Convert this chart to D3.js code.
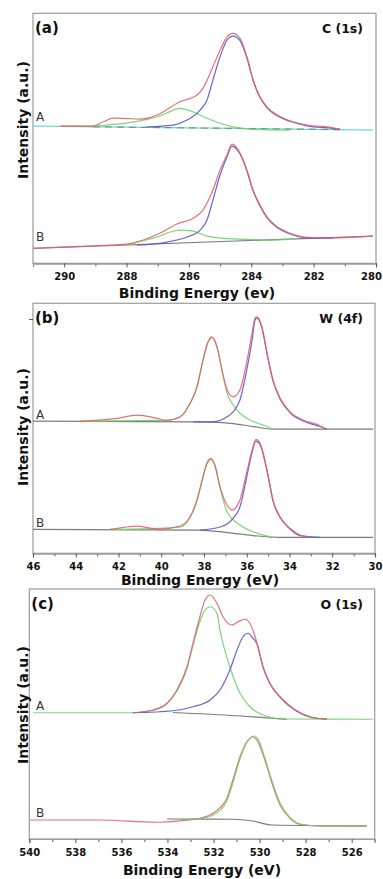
<!DOCTYPE html>
<html><head><meta charset="utf-8">
<script src="https://cdn.jsdelivr.net/npm/d3@7"></script>
<style>
html,body{margin:0;padding:0;background:#fff;}
svg{display:block;font-family:"DejaVu Sans",sans-serif;}
</style></head>
<body>
<svg id="chart" width="383" height="879"></svg>
<script>
// ---------- DATA (binding energy eV, intensity a.u.) ----------
// Panel (a) C 1s
const cTicks = [290, 288, 286, 284, 282, 280];
const cA_bg = [[291, 549], [280.1, 533]];
const cA_bg2 = [[289.08, 546], [281.15, 535]];
const cA_env = [[290.13, 549], [289.08, 549], [288.76, 565], [288.43, 581], [287.99, 579], [287.57, 577], [287.25, 583], [287.02, 593], [286.29, 646], [285.74, 673], [285.55, 700], [285.23, 786], [285.00, 853], [284.78, 906], [284.59, 920], [284.36, 900], [284.14, 826], [283.94, 733], [283.72, 666], [283.50, 626], [283.17, 593], [282.76, 570], [282.21, 553], [281.38, 542], [281.15, 536]];
const cA_c1 = [[287.34, 546], [286.51, 553], [286.06, 573], [285.64, 613], [285.42, 653], [285.23, 733], [285.00, 826], [284.78, 893], [284.59, 909], [284.36, 891], [284.14, 821], [283.94, 731], [283.72, 663], [283.50, 623], [283.17, 590], [282.76, 568], [282.21, 550], [281.38, 540], [281.15, 536]];
const cA_c2 = [[290.07, 549], [289.08, 549], [288.31, 557], [287.57, 570], [287.02, 586], [286.70, 602], [286.29, 620], [285.87, 606], [285.42, 580], [285.00, 560], [284.59, 546], [283.94, 536], [283.08, 533], [282.76, 533]];
const cB_bg = [[291, 60], [280.1, 109]];
const cB_env = [[291, 60], [289.49, 68], [287.99, 77], [287.47, 93], [286.93, 120], [286.38, 157], [285.87, 180], [285.55, 213], [285.23, 293], [285.00, 373], [284.78, 433], [284.62, 477], [284.36, 441], [284.14, 373], [283.94, 293], [283.72, 233], [283.50, 186], [283.17, 146], [282.76, 120], [282.21, 104], [281.38, 102], [280.10, 109]];
const cB_c1 = [[287.66, 73], [286.70, 85], [286.06, 105], [285.64, 133], [285.42, 173], [285.23, 253], [285.00, 353], [284.78, 425], [284.62, 469], [284.36, 437], [284.14, 369], [283.94, 289], [283.72, 229], [283.50, 183], [283.17, 143], [282.76, 117], [282.21, 102], [281.38, 101]];
const cB_c2 = [[287.89, 77], [286.93, 109], [286.61, 125], [286.29, 133], [285.87, 129], [285.42, 109], [285.00, 101], [284.36, 97], [283.50, 93], [282.66, 97]];

// Panel (b) W 4f
const wTicks = [46, 44, 42, 40, 38, 36, 34, 32, 30];
const wA_bg = [[46, 529], [38.51, 526], [37.58, 525], [36.64, 519], [35.71, 507], [34.77, 497], [30.09, 497]];
const wA_env = [[43.80, 529], [42.07, 540], [41.13, 553], [40.20, 540], [39.73, 531], [39.12, 546], [38.65, 601], [38.33, 666], [38.05, 773], [37.81, 846], [37.63, 866], [37.39, 826], [37.16, 733], [36.88, 646], [36.64, 626], [36.32, 653], [36.01, 761], [35.75, 881], [35.61, 941], [35.52, 946], [35.29, 906], [35.05, 801], [34.77, 693], [34.44, 621], [33.98, 566], [33.37, 533], [32.57, 510], [32.34, 497]];
const wA_c1 = [[43.80, 527], [41.13, 531], [39.73, 533], [39.12, 545], [38.65, 599], [38.33, 663], [38.05, 769], [37.81, 843], [37.63, 863], [37.39, 823], [37.16, 733], [36.92, 641], [36.64, 593], [36.32, 560], [35.85, 533], [35.24, 513], [34.77, 497]];
const wA_c2 = [[38.51, 526], [37.58, 526], [36.92, 546], [36.64, 566], [36.32, 613], [36.01, 729], [35.75, 853], [35.61, 933], [35.52, 941], [35.29, 901], [35.05, 797], [34.77, 689], [34.44, 617], [33.98, 563], [33.37, 529], [32.57, 507], [32.25, 497]];
const wB_bg = [[46, 96], [38.19, 93], [36.92, 83], [35.71, 71], [34.58, 64], [30.09, 64]];
const wB_env = [[42.40, 96], [41.79, 103], [41.13, 109], [40.53, 101], [40.06, 97], [39.12, 109], [38.65, 146], [38.33, 213], [38.09, 293], [37.86, 361], [37.67, 380], [37.49, 353], [37.25, 266], [36.92, 193], [36.69, 173], [36.32, 213], [36.01, 321], [35.75, 413], [35.57, 456], [35.38, 441], [35.05, 333], [34.77, 213], [34.44, 146], [33.98, 100], [33.51, 73], [33.04, 64]];
const wB_c1 = [[42.40, 95], [39.12, 105], [38.65, 143], [38.33, 209], [38.09, 289], [37.86, 357], [37.67, 376], [37.49, 349], [37.25, 261], [36.92, 166], [36.32, 113], [35.71, 86], [35.05, 69], [34.58, 64]];
const wB_c2 = [[38.19, 93], [37.25, 105], [36.64, 140], [36.32, 185], [36.01, 301], [35.75, 405], [35.57, 449], [35.38, 435], [35.05, 329], [34.77, 209], [34.44, 143], [33.98, 97], [33.51, 71], [32.57, 64]];

// Panel (c) O 1s
const oTicks = [540, 538, 536, 534, 532, 530, 528, 526];
const oA_bg = [[533.76, 506], [531.0, 493], [528.81, 479]];
const oA_env = [[535.50, 505], [534.63, 516], [534.02, 543], [533.59, 596], [533.15, 689], [532.89, 784], [532.59, 889], [532.37, 956], [532.15, 976], [531.85, 943], [531.59, 889], [531.20, 856], [530.94, 869], [530.63, 879], [530.42, 863], [530.11, 783], [529.85, 689], [529.55, 623], [529.11, 569], [528.55, 523], [527.81, 489], [527.07, 479]];
const oA_c1 = [[539.84, 505], [535.50, 505], [534.63, 515], [534.02, 541], [533.59, 592], [533.15, 683], [532.89, 775], [532.59, 870], [532.37, 915], [532.15, 929], [531.85, 903], [531.72, 836], [531.29, 689], [530.85, 583], [530.42, 529], [529.85, 496], [528.98, 480], [525.08, 479]];
const oA_c2 = [[535.50, 505], [533.76, 513], [532.89, 529], [532.15, 556], [531.72, 596], [531.29, 676], [530.98, 756], [530.72, 809], [530.50, 823], [530.29, 803], [530.11, 780], [529.85, 687], [529.55, 621], [529.11, 567], [528.55, 521], [527.81, 488], [527.07, 479]];
const oB_bg = [[534.02, 80], [531.16, 79], [530.29, 72], [529.46, 56], [525.34, 52]];
const oB_env = [[539.97, 76], [536.93, 76], [534.46, 67], [533.46, 73], [532.59, 83], [532.02, 103], [531.42, 163], [531.16, 236], [530.85, 329], [530.55, 389], [530.29, 409], [530.07, 389], [529.77, 316], [529.46, 223], [529.11, 136], [528.68, 83], [528.25, 59], [527.38, 52], [525.34, 52]];
const oB_c1 = [[533.46, 78], [532.59, 82], [532.02, 96], [531.42, 152], [531.16, 224], [530.85, 320], [530.55, 386], [530.24, 412], [530.02, 392], [529.77, 324], [529.46, 232], [529.11, 144], [528.68, 86], [528.25, 60], [527.38, 52], [525.34, 52]];

const panelLabels = ["(a)", "(b)", "(c)"];
const elementLabels = ["C (1s)", "W (4f)", "O (1s)"];
const xTitles = ["Binding Energy (ev)", "Binding Energy (eV)", "Binding Energy (eV)"];
const yTitle = "Intensity (a.u.)";

// ---------- STYLE ----------
const COL = {red: "#e2606c", blue: "#5a56c8", green: "#6ad46a", gray: "#6e6e6e", cyan: "#55dcd2", frame: "#9c9c9c"};

const panels = [
  {xDom: [291, 280], x0: 33, x1: 376, top: 13.3, bottom: 263.3, ticks: cTicks, minorStep: 1,
   titleX: 197, titleY: 298, yTitleC: 120, yTicks: [],
   series: [
     {d: cA_bg, c: COL.cyan}, {d: cA_bg2, c: COL.gray, dash: "7,5", op: 0.7}, {d: cA_c2, c: COL.green}, {d: cA_c1, c: COL.blue}, {d: cA_env, c: COL.red},
     {d: cB_bg, c: COL.gray}, {d: cB_c2, c: COL.green}, {d: cB_c1, c: COL.blue}, {d: cB_env, c: COL.red}],
   labA: 120.7, labB: 240.7},
  {xDom: [46, 30], x0: 33, x1: 375, top: 303.3, bottom: 553.3, ticks: wTicks, minorStep: 1,
   titleX: 200, titleY: 585, yTitleC: 427, yTicks: [937],
   series: [
     {d: wA_bg, c: COL.gray}, {d: wA_c1, c: COL.green}, {d: wA_c2, c: COL.blue}, {d: wA_env, c: COL.red},
     {d: wB_bg, c: COL.gray}, {d: wB_c1, c: COL.green}, {d: wB_c2, c: COL.blue}, {d: wB_env, c: COL.red}],
   labA: 419.3, labB: 526.7},
  {xDom: [540, 525], x0: 29.3, x1: 374.7, top: 589, bottom: 839, ticks: oTicks, minorStep: 1,
   titleX: 202, titleY: 875, yTitleC: 705, yTicks: [],
   series: [
     {d: oA_bg, c: COL.gray}, {d: oA_c1, c: COL.green}, {d: oA_c2, c: COL.blue}, {d: oA_env, c: COL.red},
     {d: oB_bg, c: COL.gray}, {d: oB_env, c: COL.red}, {d: oB_c1, c: COL.green}],
   labA: 710, labB: 817.3}
];

const svg = d3.select("#chart");

panels.forEach((p, i) => {
  const x = d3.scaleLinear().domain(p.xDom).range([p.x0, p.x1]);
  const y = d3.scaleLinear().domain([0, 1000]).range([p.bottom, p.top]);
  const g = svg.append("g");

  g.append("rect").attr("x", p.x0).attr("y", p.top).attr("width", p.x1 - p.x0).attr("height", p.bottom - p.top)
    .attr("fill", "none").attr("stroke", COL.frame).attr("stroke-width", 1.2);

  const line = d3.line().x(d => x(d[0])).y(d => y(d[1])).curve(d3.curveMonotoneX);
  p.series.forEach(s => {
    const pts = s.d.slice().sort((a, b) => b[0] - a[0]);
    g.append("path").attr("d", line(pts)).attr("fill", "none").attr("stroke", s.c)
      .attr("stroke-width", 1.2).attr("stroke-opacity", s.op || 0.9).attr("stroke-linejoin", "round")
      .attr("stroke-dasharray", s.dash || null);
  });

  const lo = Math.min(...p.xDom), hi = Math.max(...p.xDom);
  const minor = d3.range(Math.ceil(lo), Math.floor(hi) + 1, p.minorStep).filter(v => !p.ticks.includes(v));
  const axMinor = g.append("g").attr("transform", `translate(0,${p.bottom})`)
    .call(d3.axisBottom(x).tickValues(minor).tickSize(3).tickFormat(""));
  const axMajor = g.append("g").attr("transform", `translate(0,${p.bottom})`)
    .call(d3.axisBottom(x).tickValues(p.ticks).tickSize(4).tickPadding(6).tickFormat(d3.format("d")));
  [axMinor, axMajor].forEach(ax => {
    ax.select(".domain").attr("stroke", COL.frame).attr("stroke-width", 1.2);
    ax.selectAll(".tick line").attr("stroke", "#555");
  });
  axMajor.selectAll("text").attr("font-size", 10).attr("font-weight", "bold").attr("fill", "#111")
    .attr("font-family", "DejaVu Sans")
    .attr("dx", function() { const px = +this.parentNode.getAttribute("transform").match(/translate\(([-\d.]+)/)[1]; return px > 375.5 ? -5 : 0; });

  if (p.yTicks.length) {
    const ay = g.append("g").attr("transform", `translate(${p.x0},0)`)
      .call(d3.axisLeft(y).tickValues(p.yTicks).tickSize(4).tickFormat(""));
    ay.select(".domain").remove();
    ay.selectAll(".tick line").attr("stroke", "#555");
  }

  g.append("text").attr("x", p.titleX).attr("y", p.titleY).attr("text-anchor", "middle")
    .attr("font-size", 14).attr("font-weight", "bold").attr("fill", "#111").text(xTitles[i]);
  g.append("text").attr("transform", `translate(28,${p.yTitleC}) rotate(-90)`).attr("text-anchor", "middle")
    .attr("font-size", 14).attr("font-weight", "bold").attr("fill", "#111").text(yTitle);
  g.append("text").attr("x", p.x0 + 2).attr("y", p.top + 19.5).attr("font-size", 15).attr("font-weight", "bold")
    .attr("fill", "#111").text(panelLabels[i]);
  g.append("text").attr("x", 363).attr("y", p.top + 19.5).attr("text-anchor", "end").attr("font-size", 12.5)
    .attr("font-weight", "bold").attr("fill", "#111").text(elementLabels[i]);
  g.append("text").attr("x", 36).attr("y", p.labA).attr("font-size", 12).attr("fill", "#333").text("A");
  g.append("text").attr("x", 36).attr("y", p.labB).attr("font-size", 12).attr("fill", "#333").text("B");
});
</script>
</body></html>
